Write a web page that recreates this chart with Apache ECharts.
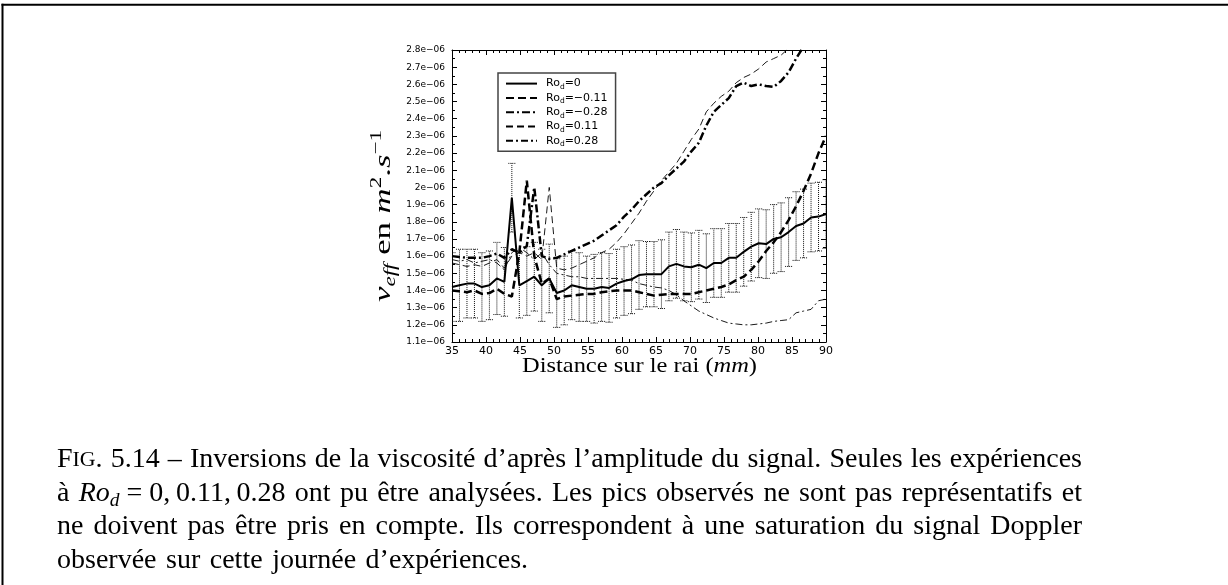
<!DOCTYPE html>
<html>
<head>
<meta charset="utf-8">
<script src="https://cdn.jsdelivr.net/npm/echarts@6/dist/echarts.min.js"></script>
<style>
  html, body { margin: 0; padding: 0; background: #fff; }
  #chart { width: 1228px; height: 585px; }
</style>
</head>
<body>
<div id="chart"></div>
<script>
// Sampling positions along the ray (mm)
const distanceMm = [35.0, 36.1, 37.2, 38.3, 39.4, 40.5, 41.6, 42.7, 43.8, 44.9,
  46.0, 47.1, 48.2, 49.3, 50.4, 51.5, 52.6, 53.7, 54.8, 55.9,
  57.0, 58.1, 59.2, 60.3, 61.4, 62.5, 63.6, 64.7, 65.8, 66.9,
  68.0, 69.1, 70.2, 71.3, 72.4, 73.5, 74.6, 75.7, 76.8, 77.9,
  79.0, 80.1, 81.2, 82.3, 83.4, 84.5, 85.6, 86.7, 87.8, 88.9, 90.0];

// Effective viscosity, in units of 1e-06 m^2/s
const nuRo0 = [1.42, 1.43, 1.44, 1.44, 1.42, 1.43, 1.47, 1.45, 1.94, 1.43,
  1.455, 1.48, 1.43, 1.47, 1.385, 1.40, 1.43, 1.42, 1.41, 1.41,
  1.42, 1.415, 1.44, 1.455, 1.465, 1.49, 1.495, 1.495, 1.495, 1.54,
  1.555, 1.54, 1.535, 1.55, 1.53, 1.56, 1.56, 1.59, 1.59, 1.625,
  1.655, 1.675, 1.67, 1.70, 1.71, 1.74, 1.775, 1.79, 1.825, 1.83, 1.845];

// Half-width of the error bars on Ro_d = 0
const errRo0 = [0.20, 0.21, 0.20, 0.20, 0.20, 0.20, 0.21, 0.20, 0.20, 0.19,
  0.20, 0.20, 0.21, 0.20, 0.20, 0.20, 0.20, 0.20, 0.19, 0.20,
  0.20, 0.20, 0.20, 0.20, 0.20, 0.20, 0.19, 0.19, 0.20, 0.20,
  0.20, 0.20, 0.20, 0.20, 0.20, 0.20, 0.20, 0.20, 0.20, 0.20,
  0.20, 0.20, 0.20, 0.20, 0.20, 0.20, 0.20, 0.20, 0.20, 0.20, 0.20];

const nuRoM011 = [1.40, 1.395, 1.39, 1.40, 1.38, 1.385, 1.41, 1.38, 1.365, 1.62,
  2.04, 1.60, 1.44, 1.47, 1.35, 1.365, 1.37, 1.375, 1.38, 1.38,
  1.39, 1.395, 1.40, 1.40, 1.40, 1.39, 1.38, 1.37, 1.375, 1.38,
  1.38, 1.38, 1.38, 1.39, 1.40, 1.41, 1.42, 1.435, 1.46, 1.48,
  1.52, 1.57, 1.63, 1.68, 1.74, 1.81, 1.89, 1.98, 2.08, 2.20, 2.30];

const nuRoM028 = [1.60, 1.595, 1.59, 1.59, 1.59, 1.60, 1.615, 1.59, 1.64, 1.62,
  1.66, 2.00, 1.60, 1.585, 1.59, 1.61, 1.63, 1.65, 1.67, 1.69,
  1.72, 1.75, 1.78, 1.83, 1.87, 1.92, 1.96, 2.00, 2.025, 2.07,
  2.11, 2.15, 2.21, 2.26, 2.36, 2.44, 2.48, 2.52, 2.59, 2.61,
  2.59, 2.60, 2.59, 2.585, 2.62, 2.67, 2.75, 2.82, 2.95, null, null];

const nuRoP011 = [1.56, 1.55, 1.54, 1.55, 1.54, 1.56, 1.58, 1.53, 1.60, 1.62,
  1.60, 1.62, 1.58, 2.00, 1.53, 1.52, 1.53, 1.55, 1.57, 1.59,
  1.62, 1.64, 1.68, 1.73, 1.79, 1.85, 1.92, 1.98, 2.04, 2.09,
  2.14, 2.21, 2.28, 2.34, 2.44, 2.49, 2.53, 2.56, 2.61, 2.64,
  2.66, 2.69, 2.73, 2.75, 2.77, 2.81, 2.90, null, null, null, null];

const nuRoP028 = [1.58, 1.57, 1.58, 1.56, 1.57, 1.58, 1.56, 1.52, 1.62, 1.65,
  1.62, 1.58, 1.62, 1.55, 1.50, 1.49, 1.48, 1.48, 1.47, 1.47,
  1.47, 1.47, 1.47, 1.465, 1.46, 1.44, 1.43, 1.42, 1.415, 1.40,
  1.375, 1.34, 1.31, 1.28, 1.26, 1.24, 1.225, 1.21, 1.205, 1.20,
  1.20, 1.205, 1.21, 1.22, 1.225, 1.23, 1.27, 1.28, 1.29, 1.34, 1.35];

// Axis ranges and tick steps
const xRange = [35, 90], xStep = 5;
const yRange = [1.1, 2.8], yStep = 0.1;
const yExponentSuffix = 'e\u221206';

// Legend values of the dimensionless Rossby number
const legendValues = ['0', '\u22120.11', '\u22120.28', '0.11', '0.28'];

// Figure caption, one entry per printed line
const captionLines = [
  '{sc1|F}{sc2|IG}. 5.14 \u2013 Inversions de la viscosit\u00e9 d\u2019apr\u00e8s l\u2019amplitude du signal. Seules les exp\u00e9riences',
  '\u00e0 {it|Ro}{sub|d}\u00a0=\u00a00,\u20090.11,\u20090.28 ont pu \u00eatre analys\u00e9es. Les pics observ\u00e9s ne sont pas repr\u00e9sentatifs et',
  'ne doivent pas \u00eatre pris en compte. Ils correspondent \u00e0 une saturation du signal Doppler',
  'observ\u00e9e sur cette journ\u00e9e d\u2019exp\u00e9riences.'
];

const serif = '"Liberation Serif", "DejaVu Serif", serif';
const sans = '"DejaVu Sans", "Liberation Sans", sans-serif';

// ---------- text measurement helpers (rich strings) ----------
const measureCtx = document.createElement('canvas').getContext('2d');
function parseRich(str) {
  const parts = [];
  const re = /\{(\w+)\|([^}]*)\}/g;
  let last = 0, m;
  while ((m = re.exec(str))) {
    if (m.index > last) parts.push(['_', str.slice(last, m.index)]);
    parts.push([m[1], m[2]]);
    last = re.lastIndex;
  }
  if (last < str.length) parts.push(['_', str.slice(last)]);
  return parts;
}
function cssFont(st) {
  return (st.fontStyle || 'normal') + ' normal ' + st.fontSize + 'px ' + st.fontFamily;
}
function richWidth(str, base, rich) {
  return parseRich(str).reduce((w, [k, t]) => {
    const st = k === '_' ? base : rich[k];
    measureCtx.font = cssFont(st);
    return w + measureCtx.measureText(t).width;
  }, 0);
}

// ---------- caption ----------
const capSize = 28;
const capBase = { fontSize: capSize, fontFamily: serif, fontStyle: 'normal' };
const capRich = {
  sc1: { fontSize: capSize, fontFamily: serif, fill: '#000' },
  sc2: { fontSize: 21.8, fontFamily: serif, fill: '#000' },
  it: { fontSize: capSize, fontFamily: serif, fontStyle: 'italic', fill: '#000' },
  sub: { fontSize: 19.5, fontFamily: serif, fontStyle: 'italic', fill: '#000', verticalAlign: 'bottom', lineHeight: 19 }
};
const capLeft = 57, capRight = 1082, capFirstMid = 460, capLeading = 33.5;

const graphics = [];
// page frame (top and left rules)
graphics.push({ type: 'line', silent: true, shape: { x1: 2.5, y1: 3.7, x2: 2.5, y2: 585 }, style: { stroke: '#000', lineWidth: 2 } });
graphics.push({ type: 'line', silent: true, shape: { x1: 1.5, y1: 4.7, x2: 1228, y2: 4.7 }, style: { stroke: '#000', lineWidth: 2 } });

captionLines.forEach((line, li) => {
  const words = line.split(' ');
  const widths = words.map(w => richWidth(w, capBase, capRich));
  const total = widths.reduce((a, b) => a + b, 0);
  const justified = li < captionLines.length - 1;
  const gap = justified ? (capRight - capLeft - total) / (words.length - 1) : capSize * 0.34;
  let x = capLeft;
  words.forEach((w, i) => {
    graphics.push({
      type: 'text', silent: true, x: x, y: capFirstMid + li * capLeading,
      style: {
        text: w, rich: capRich, fontSize: capSize, fontFamily: serif, fill: '#000',
        lineHeight: 35, align: 'left', verticalAlign: 'middle'
      }
    });
    x += widths[i] + gap;
  });
});

// ---------- axis titles ----------
const xTitleBase = { fontSize: 22, fontFamily: serif, fontStyle: 'normal' };
const xTitleRich = { it: { fontSize: 22, fontFamily: serif, fontStyle: 'italic', fill: '#000' } };
const xTitleText = 'Distance sur le rai ({it|mm})';
const xTitleW = richWidth(xTitleText, xTitleBase, xTitleRich);
graphics.push({
  type: 'text', silent: true, x: 639.5, y: 366.5, scaleX: 235 / xTitleW,
  style: { text: xTitleText, rich: xTitleRich, fontSize: 22, fontFamily: serif, fill: '#000',
    lineHeight: 26, align: 'center', verticalAlign: 'middle' }
});

const yTitleBase = { fontSize: 24, fontFamily: serif, fontStyle: 'normal' };
const yTitleRich = {
  it: { fontSize: 24, fontFamily: serif, fontStyle: 'italic', fill: '#000' },
  sub: { fontSize: 16, fontFamily: serif, fontStyle: 'italic', fill: '#000', verticalAlign: 'bottom', lineHeight: 16 },
  sup: { fontSize: 16, fontFamily: serif, fontStyle: 'normal', fill: '#000', verticalAlign: 'top', lineHeight: 16 }
};
const yTitleText = '{it|\u03bd}{sub|eff} en {it|m}{sup|2}.{it|s}{sup|\u22121}';
const yTitleW = richWidth(yTitleText, yTitleBase, yTitleRich);
graphics.push({
  type: 'text', silent: true, x: 384, y: 216, rotation: Math.PI / 2, scaleX: 172 / yTitleW,
  style: { text: yTitleText, rich: yTitleRich, fontSize: 24, fontFamily: serif, fill: '#000',
    lineHeight: 30, align: 'center', verticalAlign: 'middle' }
});

// ---------- axes ----------
function yLabel(v) {
  const t = Math.round(v * 10) / 10;
  return (Number.isInteger(t) ? t.toFixed(0) : t.toFixed(1)) + yExponentSuffix;
}
function xAxisDef(pos) {
  return {
    type: 'value', position: pos, min: xRange[0], max: xRange[1], interval: xStep,
    axisLine: { show: true, onZero: false, lineStyle: { color: '#000', width: 1 } },
    axisTick: { show: true, inside: true, length: 5, lineStyle: { color: '#000', width: 1 } },
    minorTick: { show: true, splitNumber: 5, length: 3, lineStyle: { color: '#000', width: 1 } },
    axisLabel: { show: pos === 'bottom', margin: 4, color: '#000', fontFamily: sans, fontSize: 11 },
    splitLine: { show: false }, minorSplitLine: { show: false }
  };
}
function yAxisDef(pos) {
  return {
    type: 'value', position: pos, min: yRange[0], max: yRange[1], interval: yStep,
    axisLine: { show: true, onZero: false, lineStyle: { color: '#000', width: 1 } },
    axisTick: { show: true, inside: true, length: 5, lineStyle: { color: '#000', width: 1 } },
    minorTick: { show: true, splitNumber: 2, length: 3, lineStyle: { color: '#000', width: 1 } },
    axisLabel: { show: pos === 'left', margin: 7, color: '#000', fontFamily: sans, fontSize: 9, formatter: yLabel },
    splitLine: { show: false }, minorSplitLine: { show: false }
  };
}

// ---------- series ----------
const lineDefs = [
  { data: nuRo0, width: 2, type: 'solid' },
  { data: nuRoM011, width: 2.5, type: [8, 4] },
  { data: nuRoM028, width: 2.5, type: [8, 3, 2, 3] },
  { data: nuRoP011, width: 0.9, type: [7, 4] },
  { data: nuRoP028, width: 0.9, type: [7, 3, 2, 3] }
];
const seriesNames = legendValues.map(v => 'Ro_d=' + v);

const errorSeries = {
  type: 'custom', name: 'errorbars', xAxisIndex: 0, yAxisIndex: 0, clip: true, silent: true, z: 1,
  encode: { x: 0, y: [1, 2] },
  data: distanceMm.map((d, i) => [d, nuRo0[i] - errRo0[i], nuRo0[i] + errRo0[i]]),
  renderItem(params, api) {
    const x = api.value(0);
    const lo = api.coord([x, api.value(1)]);
    const hi = api.coord([x, api.value(2)]);
    const hw = 3.5;
    const st = { stroke: '#111', lineWidth: 1, lineDash: [1, 1], fill: null };
    return {
      type: 'group',
      children: [
        { type: 'line', shape: { x1: lo[0], y1: lo[1], x2: hi[0], y2: hi[1] }, style: st },
        { type: 'line', shape: { x1: lo[0] - hw, y1: lo[1], x2: lo[0] + hw, y2: lo[1] }, style: st },
        { type: 'line', shape: { x1: hi[0] - hw, y1: hi[1], x2: hi[0] + hw, y2: hi[1] }, style: st }
      ]
    };
  }
};

const lineSeries = lineDefs.map((def, k) => ({
  type: 'line', name: seriesNames[k], xAxisIndex: 0, yAxisIndex: 0,
  data: distanceMm.map((d, i) => [d, def.data[i]]),
  symbol: 'none', showSymbol: false, connectNulls: false, clip: true, z: 3 + k,
  lineStyle: { color: '#000', width: def.width, type: def.type, cap: 'butt' },
  itemStyle: { color: '#000' },
  emphasis: { disabled: true }
}));

const legendRich = {
  r: { fontSize: 11, fontFamily: sans, color: '#000', lineHeight: 15, padding: [0, 0, 0, 4] },
  s: { fontSize: 7.5, fontFamily: sans, color: '#000', lineHeight: 8, verticalAlign: 'bottom' },
  v: { fontSize: 11, fontFamily: sans, color: '#000', lineHeight: 15 }
};

const chart = echarts.init(document.getElementById('chart'), null, { renderer: 'canvas' });
chart.setOption({
  animation: false,
  backgroundColor: '#fff',
  textStyle: { fontFamily: sans },
  grid: { left: 452, top: 50, width: 374, height: 292, containLabel: false },
  xAxis: [xAxisDef('bottom'), xAxisDef('top')],
  yAxis: [yAxisDef('left'), yAxisDef('right')],
  legend: {
    data: seriesNames, orient: 'vertical', left: 498, top: 73,
    padding: [5, 8, 3, 7], itemGap: 1.2, itemWidth: 31, itemHeight: 14,
    borderColor: '#444', borderWidth: 1.5, backgroundColor: '#fff',
    selectedMode: false, z: 10,
    itemStyle: { color: 'rgba(0,0,0,0)', borderWidth: 0, opacity: 0 },
    formatter: name => '{r|Ro}{s|d}{v|=' + legendValues[seriesNames.indexOf(name)] + '}',
    textStyle: { rich: legendRich, color: '#000', fontFamily: sans, fontSize: 11 }
  },
  series: [errorSeries, ...lineSeries],
  graphic: { elements: graphics }
});
</script>
</body>
</html>
